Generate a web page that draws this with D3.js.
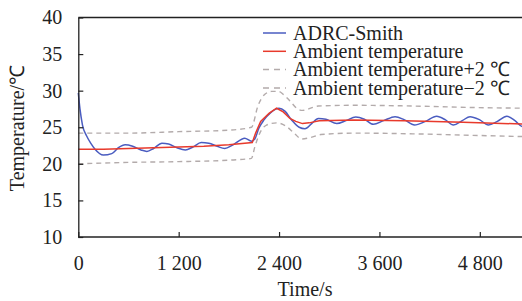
<!DOCTYPE html>
<html>
<head>
<meta charset="utf-8">
<script src="https://cdn.jsdelivr.net/npm/d3@7"></script>
<style>
  html, body { margin: 0; padding: 0; background: #fff; }
</style>
</head>
<body>
<div id="chart"></div>
<script>
// Time axis ticks and temperature ticks
const xTicks = [0, 1200, 2400, 3600, 4800];
const yTicks = [10, 15, 20, 25, 30, 35, 40];

// ADRC-Smith response (blue)
const smithT = [0, 20, 50, 100, 150, 200, 300, 400, 480, 560, 650, 750, 820, 900, 1000, 1080, 1180, 1280,
  1370, 1470, 1560, 1660, 1750, 1850, 1990, 2070, 2110, 2160, 2220, 2300, 2400, 2470, 2550, 2640, 2710,
  2790, 2870, 2960, 3090, 3200, 3317, 3420, 3527, 3650, 3787, 3900, 4020, 4150, 4284, 4390, 4484, 4590,
  4683, 4800, 4903, 5010, 5122, 5220, 5306, 5400];
const smithV = [29.7, 27.5, 25.3, 23.8, 22.8, 22.0, 21.2, 21.4, 22.2, 22.6, 22.4, 21.9, 21.7, 22.1, 22.8, 22.7,
  22.2, 21.9, 22.3, 22.9, 22.8, 22.4, 22.1, 22.6, 23.5, 23.1, 23.4, 24.9, 26.0, 27.0, 27.6, 27.2, 26.0, 25.0,
  24.8, 25.5, 26.2, 26.1, 25.5, 25.9, 26.4, 26.1, 25.4, 25.9, 26.45, 26.0, 25.3, 25.8, 26.5, 26.0, 25.3,
  25.9, 26.45, 26.0, 25.3, 25.8, 26.5, 25.9, 25.1, 25.0];

// Ambient temperature (red)
const ambientT = [0, 300, 600, 900, 1200, 1500, 1800, 2080, 2120, 2180, 2280, 2370, 2450, 2530, 2600, 2680,
  2760, 2880, 3300, 3900, 4600, 5400];
const ambientV = [22.0, 22.0, 22.1, 22.2, 22.3, 22.4, 22.6, 22.9, 24.2, 25.8, 26.9, 27.6, 27.1, 26.2, 25.8,
  25.5, 25.6, 25.9, 26.0, 25.9, 25.7, 25.4];

// Ambient temperature +2 (grey dashed)
const upperT = [0, 600, 1200, 1800, 2070, 2150, 2230, 2310, 2390, 2450, 2530, 2610, 2680, 2870, 3300, 4000, 4700, 5400];
const upperV = [24.2, 24.2, 24.4, 24.6, 25.0, 28.0, 29.5, 29.9, 29.9, 29.5, 28.6, 27.6, 27.3, 27.9, 28.0, 27.9, 27.7, 27.6];

// Ambient temperature -2 (grey dashed)
const lowerT = [0, 600, 1200, 1800, 2070, 2110, 2170, 2250, 2370, 2490, 2580, 2670, 2780, 2900, 3300, 4000, 4700, 5400];
const lowerV = [20.0, 20.2, 20.3, 20.5, 20.75, 22.3, 24.2, 25.3, 25.6, 25.1, 24.2, 23.4, 23.6, 24.0, 24.2, 24.1, 23.9, 23.7];

const legendLabels = ['ADRC-Smith', 'Ambient temperature', 'Ambient temperature+2 ℃', 'Ambient temperature−2 ℃'];

const W = 522, H = 301;
const colors = { blue: '#4a5cc0', red: '#e83a2c', grey: '#b3abab', axis: '#222' };

const svg = d3.select('#chart').append('svg')
  .attr('width', W).attr('height', H);

const x = d3.scaleLinear().domain([0, 5400]).range([78.3, 530]);
const y = d3.scaleLinear().domain([10, 40]).range([237, 17.5]);

// "1 200" style thousands
const fmt = d => String(d).replace(/\B(?=(\d{3})+(?!\d))/g, ' ');

function serif(sel) {
  return sel.style('font-family', '"Liberation Serif"').attr('font-size', 20).attr('fill', '#222');
}

function pts(ts, vs) { return ts.map((t, i) => ({ t: t, v: vs[i] })); }

const smooth = d3.line().x(d => x(d.t)).y(d => y(d.v)).curve(d3.curveMonotoneX);
const straight = d3.line().x(d => x(d.t)).y(d => y(d.v));

// series
svg.append('path').datum(pts(upperT, upperV))
  .attr('d', smooth).attr('fill', 'none')
  .attr('stroke', colors.grey).attr('stroke-width', 1.4).attr('stroke-dasharray', '5,4');

svg.append('path').datum(pts(lowerT, lowerV))
  .attr('d', smooth).attr('fill', 'none')
  .attr('stroke', colors.grey).attr('stroke-width', 1.4).attr('stroke-dasharray', '5,4');

svg.append('path').datum(pts(smithT, smithV))
  .attr('d', smooth).attr('fill', 'none')
  .attr('stroke', colors.blue).attr('stroke-width', 1.5);

svg.append('path').datum(pts(ambientT, ambientV))
  .attr('d', straight).attr('fill', 'none')
  .attr('stroke', colors.red).attr('stroke-width', 1.5);

// top frame
svg.append('line')
  .attr('x1', x(0)).attr('x2', W)
  .attr('y1', y(40)).attr('y2', y(40))
  .attr('stroke', colors.axis).attr('stroke-width', 1.3);

// axes
const xAxis = svg.append('g')
  .attr('transform', `translate(0,${y(10)})`)
  .call(d3.axisBottom(x).tickValues(xTicks).tickFormat(fmt).tickSize(-5).tickSizeOuter(0).tickPadding(19));
xAxis.select('.domain').attr('d', `M${x(0)},0H${W}`);

const yAxis = svg.append('g')
  .attr('transform', `translate(${x(0)},0)`)
  .call(d3.axisLeft(y).tickValues(yTicks).tickSize(-5).tickSizeOuter(0).tickPadding(16));

[xAxis, yAxis].forEach(a => {
  a.select('.domain').attr('stroke', colors.axis).attr('stroke-width', 1.3);
  a.selectAll('.tick line').attr('stroke', colors.axis).attr('stroke-width', 1.2);
  serif(a.selectAll('.tick text'));
});

// axis titles
serif(svg.append('text'))
  .attr('x', 305).attr('y', 296)
  .attr('text-anchor', 'middle')
  .text('Time/s');

serif(svg.append('text'))
  .attr('transform', 'translate(24,128) rotate(-90)')
  .attr('text-anchor', 'middle')
  .text('Temperature/℃');

// legend
const legendStyles = [
  { color: colors.blue, dash: null },
  { color: colors.red, dash: null },
  { color: colors.grey, dash: '6,5' },
  { color: colors.grey, dash: '6,5' }
];
const rowGap = 18.3;

const legend = svg.append('g').attr('transform', 'translate(263,33)');
legend.selectAll('line').data(legendLabels).enter().append('line')
  .attr('x1', 0).attr('x2', 23)
  .attr('y1', (d, i) => i * rowGap).attr('y2', (d, i) => i * rowGap)
  .attr('stroke', (d, i) => legendStyles[i].color)
  .attr('stroke-width', 1.5)
  .attr('stroke-dasharray', (d, i) => legendStyles[i].dash);

const legendText = serif(legend.append('text'));
legendText.selectAll('tspan').data(legendLabels).enter().append('tspan')
  .attr('x', 30)
  .attr('y', (d, i) => i * rowGap + 6.6)
  .text(d => d);
</script>
</body>
</html>
